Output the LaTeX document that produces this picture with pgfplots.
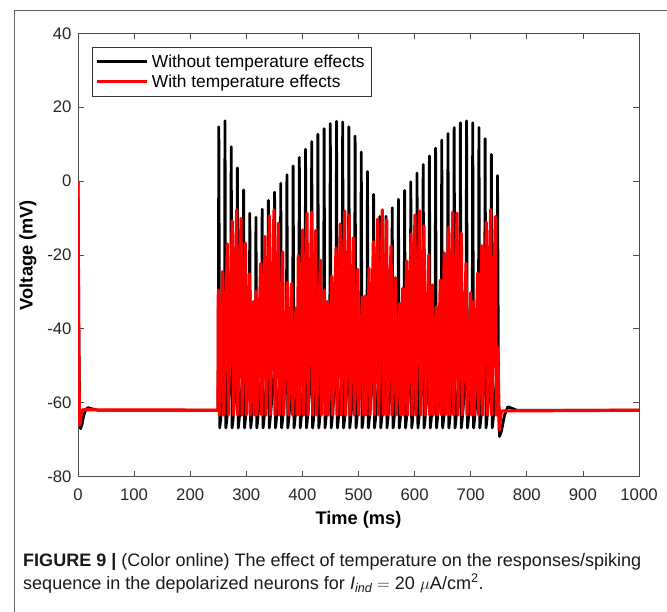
\documentclass[border=0pt]{standalone}
\usepackage{fontspec}
\setmainfont{Liberation Sans}
\usepackage{pgfplots}
\pgfplotsset{compat=1.18}
\begin{document}
\begin{tikzpicture}
\path[use as bounding box] (0,0) rectangle (667bp,612bp);
\draw[black!60, line width=1bp] (14bp,0) -- (14bp,601bp) -- (667bp,601bp);
\begin{axis}[
  at={(78bp,135.3bp)}, anchor=south west,
  scale only axis, width=561bp, height=443.4bp,
  xmin=0, xmax=1000, ymin=-80, ymax=40,
  xtick={0,100,...,1000}, ytick={-80,-60,...,40},
  tick align=inside, major tick length=6bp,
  axis line style={black!70, line width=0.8bp},
  tick style={black!70, line width=0.8bp},
  /pgf/number format/assume math mode=true,
  /pgf/number format/1000 sep={},
  ticklabel style={font=\fontsize{16.8}{17}\selectfont, text=black!85},
  xticklabel style={yshift=-9bp},
  yticklabel style={xshift=-3bp},
  xlabel={\textbf{Time (ms)}}, ylabel={\textbf{Voltage (mV)}},
  every axis x label/.style={at={(axis description cs:0.5,-0.1067)}, anchor=base, font=\fontsize{18.3}{19}\selectfont},
  every axis y label/.style={at={(axis description cs:-0.0891,0.5)}, rotate=90, anchor=center, font=\fontsize{18.3}{19}\selectfont},
  legend style={at={(0.025,0.969)}, anchor=north west, draw=black!80, line width=0.8bp, fill=white,
    font=\fontsize{17.4}{17}\selectfont, inner xsep=3bp, inner ysep=6.5bp, row sep=3.5bp,
    nodes={inner xsep=3.5bp, inner ysep=1bp}},
  legend cell align=left,
  legend image code/.code={\draw[#1, line width=3bp] (0bp,0bp) -- (50bp,0bp);},
]
\addplot[black, line width=2.8bp, line join=round] coordinates {
(0,0) (1.5,-40) (3,-64) (4.5,-67) (7,-66) (10,-63.5) (14,-61.8) (18,-61.3) (24,-61.6) (35,-62) (249.5,-62)
(250.0,-52) (251.0,14.7) (252.6,-66.8) (254.0,-64.8)
(261.0,-52) (262.0,16.3) (263.6,-66.8) (265.0,-64.8)
(272.1,-52) (273.1,9.3) (274.7,-66.8) (276.1,-64.8)
(283.1,-52) (284.1,3.6) (285.7,-66.8) (287.1,-64.8)
(294.2,-52) (295.2,-2.4) (296.8,-66.8) (298.2,-64.8)
(305.2,-52) (306.2,-8.7) (307.8,-66.8) (309.2,-64.8)
(316.2,-52) (317.2,-9.8) (318.8,-66.8) (320.2,-64.8)
(327.3,-52) (328.3,-7.6) (329.9,-66.8) (331.3,-64.8)
(338.3,-52) (339.3,-5.2) (340.9,-66.8) (342.3,-64.8)
(349.4,-52) (350.4,-3.0) (352.0,-66.8) (353.4,-64.8)
(360.4,-52) (361.4,-0.6) (363.0,-66.8) (364.4,-64.8)
(371.4,-52) (372.4,1.7) (374.0,-66.8) (375.4,-64.8)
(382.5,-52) (383.5,4.1) (385.1,-66.8) (386.5,-64.8)
(393.5,-52) (394.5,6.4) (396.1,-66.8) (397.5,-64.8)
(404.6,-52) (405.6,8.6) (407.2,-66.8) (408.6,-64.8)
(415.6,-52) (416.6,10.7) (418.2,-66.8) (419.6,-64.8)
(426.6,-52) (427.6,12.7) (429.2,-66.8) (430.6,-64.8)
(437.7,-52) (438.7,14.2) (440.3,-66.8) (441.7,-64.8)
(448.7,-52) (449.7,15.6) (451.3,-66.8) (452.7,-64.8)
(459.8,-52) (460.8,16.2) (462.4,-66.8) (463.8,-64.8)
(470.8,-52) (471.8,16.0) (473.4,-66.8) (474.8,-64.8)
(481.8,-52) (482.8,14.7) (484.4,-66.8) (485.8,-64.8)
(492.9,-52) (493.9,12.2) (495.5,-66.8) (496.9,-64.8)
(503.9,-52) (504.9,7.9) (506.5,-66.8) (507.9,-64.8)
(515.0,-52) (516.0,2.6) (517.6,-66.8) (519.0,-64.8)
(526.0,-52) (527.0,-3.6) (528.6,-66.8) (530.0,-64.8)
(537.0,-52) (538.0,-9.6) (539.6,-66.8) (541.0,-64.8)
(548.1,-52) (549.1,-9.5) (550.7,-66.8) (552.1,-64.8)
(559.1,-52) (560.1,-7.2) (561.7,-66.8) (563.1,-64.8)
(570.2,-52) (571.2,-4.9) (572.8,-66.8) (574.2,-64.8)
(581.2,-52) (582.2,-2.5) (583.8,-66.8) (585.2,-64.8)
(592.2,-52) (593.2,-0.2) (594.8,-66.8) (596.2,-64.8)
(603.3,-52) (604.3,2.2) (605.9,-66.8) (607.3,-64.8)
(614.3,-52) (615.3,4.5) (616.9,-66.8) (618.3,-64.8)
(625.4,-52) (626.4,6.8) (628.0,-66.8) (629.4,-64.8)
(636.4,-52) (637.4,8.9) (639.0,-66.8) (640.4,-64.8)
(647.4,-52) (648.4,11.1) (650.0,-66.8) (651.4,-64.8)
(658.5,-52) (659.5,12.9) (661.1,-66.8) (662.5,-64.8)
(669.5,-52) (670.5,14.5) (672.1,-66.8) (673.5,-64.8)
(680.6,-52) (681.6,15.8) (683.2,-66.8) (684.6,-64.8)
(691.6,-52) (692.6,16.3) (694.2,-66.8) (695.6,-64.8)
(702.6,-52) (703.6,15.8) (705.2,-66.8) (706.6,-64.8)
(713.7,-52) (714.7,14.5) (716.3,-66.8) (717.7,-64.8)
(724.7,-52) (725.7,11.5) (727.3,-66.8) (728.7,-64.8)
(735.8,-52) (736.8,7.2) (738.4,-66.8) (739.8,-64.8)
(746.8,-52) (747.8,1.5) (749.6,-60) (751.5,-69.1) (755,-67.5) (760,-63.5) (766,-61.1) (772,-61.4) (782,-62) (1000,-62)
};
\addlegendentry{Without temperature effects}
\addplot[red, line width=3.2bp, line join=round] coordinates {
(0,0) (1.2,-40) (2.5,-66.0) (4,-65.5) (6,-62.5) (9,-61.9) (249.5,-62)
(250.2,-29.5) (252.0,-63.3) (257.9,-24.5) (259.7,-63.3) (266.2,-17.0) (268.0,-63.3)
(275.1,-10.8) (276.9,-63.3) (282.9,-7.8) (284.7,-63.3) (290.6,-10.1) (292.4,-63.3)
(298.3,-16.8) (300.1,-63.3) (305.4,-25.1) (307.2,-63.3) (312.6,-32.6) (314.4,-63.3)
(317.3,-29.9) (319.1,-63.3) (325.6,-22.3) (327.4,-63.3) (333.4,-15.0) (335.2,-63.3)
(341.1,-9.4) (342.9,-63.3) (349.4,-7.8) (351.2,-63.3) (357.1,-11.4) (358.9,-63.3)
(364.9,-19.2) (366.7,-63.3) (373.2,-27.5) (375.0,-63.3) (380.9,-27.7) (382.7,-63.3)
(388.6,-34.4) (390.4,-63.3) (392.8,-20.2) (394.6,-63.3) (400.5,-13.2) (402.3,-63.3)
(408.2,-8.7) (410.0,-63.3) (416.5,-8.4) (418.3,-63.3) (423.7,-13.4) (425.5,-63.3)
(432.0,-21.4) (433.8,-63.3) (439.1,-29.5) (440.9,-63.3) (444.5,-32.6) (446.3,-63.3)
(452.2,-25.7) (454.0,-63.3) (459.9,-18.2) (461.7,-63.3) (467.6,-11.6) (469.4,-63.3)
(475.4,-8.1) (477.2,-63.3) (483.1,-9.2) (484.9,-63.3) (490.8,-15.3) (492.6,-63.3)
(498.5,-23.9) (500.3,-63.3) (506.9,-31.3) (508.7,-63.3) (511.6,-31.1) (513.4,-63.3)
(518.8,-23.6) (520.6,-63.3) (526.5,-16.4) (528.3,-63.3) (534.2,-10.3) (536.0,-63.3)
(542.5,-7.8) (544.3,-63.3) (550.2,-10.5) (552.0,-63.3) (558.0,-17.6) (559.8,-63.3)
(565.7,-26.1) (567.5,-63.3) (573.4,-33.1) (575.2,-63.3) (578.8,-29.0) (580.6,-63.3)
(585.9,-21.6) (587.7,-63.3) (593.6,-14.3) (595.4,-63.3) (600.7,-9.2) (602.5,-63.3)
(609.1,-8.1) (610.9,-63.3) (616.8,-12.1) (618.6,-63.3) (625.1,-20.0) (626.9,-63.3)
(631.6,-28.1) (633.4,-63.3) (638.8,-34.0) (640.6,-63.3) (645.9,-26.8) (647.7,-63.3)
(653.0,-19.5) (654.8,-63.3) (660.2,-12.6) (662.0,-63.3) (667.9,-8.4) (669.7,-63.3)
(675.6,-8.7) (677.4,-63.3) (683.3,-14.1) (685.1,-63.3) (691.7,-22.3) (693.5,-63.3)
(700.0,-30.2) (701.8,-63.3) (704.7,-32.6) (706.5,-63.3) (712.5,-24.9) (714.3,-63.3)
(719.6,-17.5) (721.4,-63.3) (727.9,-11.1) (729.7,-63.3) (735.6,-7.8) (737.4,-63.3)
(743.9,-9.6) (745.7,-63.3) (748.3,-45) (751,-67.3) (753,-64) (755,-62.2) (1000,-62)
};
\addlegendentry{With temperature effects}
\end{axis}
\node[anchor=base west, inner sep=0pt, text=black!90, font=\fontsize{18.1}{18}\selectfont] at (23bp,45bp)
  {\textbf{FIGURE 9 |} (Color online) The effect of temperature on the responses/spiking};
\node[anchor=base west, inner sep=0pt, text=black!90, font=\fontsize{18.1}{18}\selectfont] at (23bp,23bp)
  {sequence in the depolarized neurons for {\itshape I}\textsubscript{\itshape ind} $=$ 20 $\mu$A/cm\textsuperscript{2}.};
\end{tikzpicture}
\end{document}
